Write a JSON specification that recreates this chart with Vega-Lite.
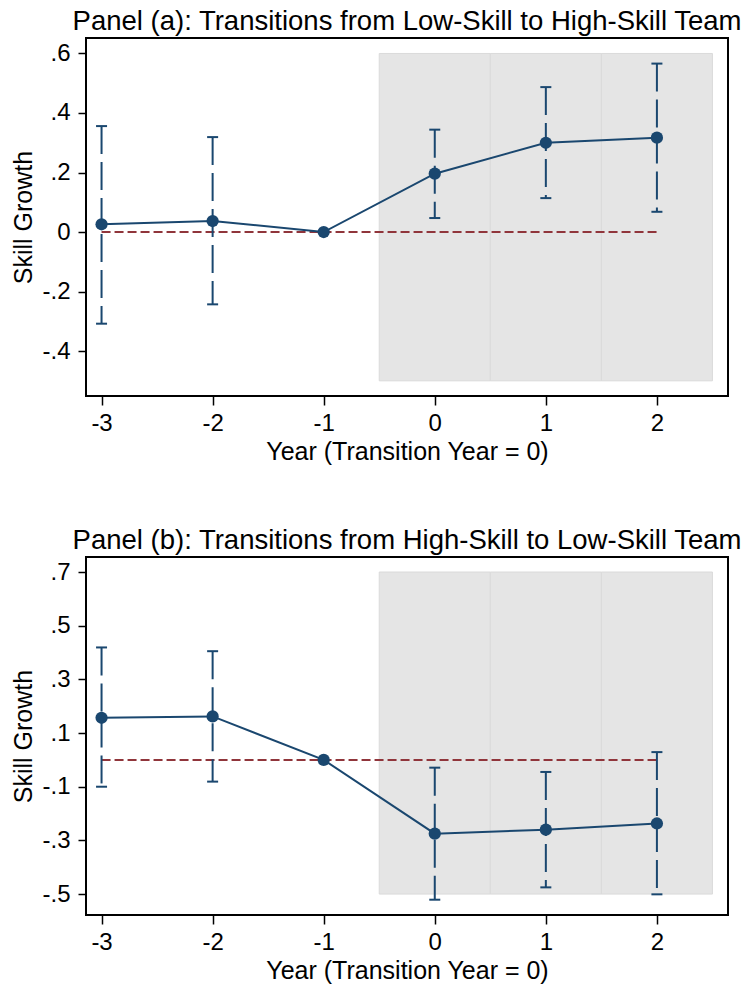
{
  "$schema": "https://vega.github.io/schema/vega-lite/v6.json",
  "padding": {"left": 10, "top": 6, "right": 0, "bottom": 0},
  "background": "white",
  "spacing": 60,
  "datasets": {
    "est": [
      {"panel": "a", "year": -3, "b": 0.026, "lo": -0.308, "hi": 0.356},
      {"panel": "a", "year": -2, "b": 0.037, "lo": -0.243, "hi": 0.319},
      {"panel": "a", "year": -1, "b": 0.0, "lo": null, "hi": null},
      {"panel": "a", "year": 0, "b": 0.196, "lo": 0.047, "hi": 0.344},
      {"panel": "a", "year": 1, "b": 0.300, "lo": 0.114, "hi": 0.487},
      {"panel": "a", "year": 2, "b": 0.317, "lo": 0.068, "hi": 0.566},
      {"panel": "b", "year": -3, "b": 0.157, "lo": -0.100, "hi": 0.419},
      {"panel": "b", "year": -2, "b": 0.162, "lo": -0.081, "hi": 0.405},
      {"panel": "b", "year": -1, "b": 0.0, "lo": null, "hi": null},
      {"panel": "b", "year": 0, "b": -0.275, "lo": -0.521, "hi": -0.029},
      {"panel": "b", "year": 1, "b": -0.260, "lo": -0.475, "hi": -0.045},
      {"panel": "b", "year": 2, "b": -0.237, "lo": -0.501, "hi": 0.029}
    ],
    "shade": [
      {"panel": "a", "x0": -0.5, "x1": 0.5, "y0": -0.5, "y1": 0.6},
      {"panel": "a", "x0": 0.5, "x1": 1.5, "y0": -0.5, "y1": 0.6},
      {"panel": "a", "x0": 1.5, "x1": 2.5, "y0": -0.5, "y1": 0.6},
      {"panel": "b", "x0": -0.5, "x1": 0.5, "y0": -0.5, "y1": 0.7},
      {"panel": "b", "x0": 0.5, "x1": 1.5, "y0": -0.5, "y1": 0.7},
      {"panel": "b", "x0": 1.5, "x1": 2.5, "y0": -0.5, "y1": 0.7}
    ],
    "ref": [
      {"panel": "a", "x0": -3, "x1": 2, "y": 0},
      {"panel": "b", "x0": -3, "x1": 2, "y": 0}
    ]
  },
  "vconcat": [
    {
      "width": 642,
      "height": 358,
      "title": {"text": "Panel (a): Transitions from Low-Skill to High-Skill Team"},
      "layer": [
        {
          "data": {"name": "shade"},
          "transform": [{"filter": "datum.panel == 'a'"}],
          "mark": {"type": "rect", "fill": "#e5e5e5", "stroke": "#dadada", "strokeWidth": 1},
          "encoding": {
            "x": {"field": "x0", "type": "quantitative", "scale": {"domain": [-3.14, 2.64], "nice": false, "zero": false},
                  "axis": {"title": "Year (Transition Year = 0)", "values": [-3, -2, -1, 0, 1, 2], "labelExpr": "(datum.value < 0 ? '-' : '') + abs(datum.value)"}},
            "x2": {"field": "x1"},
            "y": {"field": "y0", "type": "quantitative", "scale": {"domain": [-0.551, 0.652], "nice": false, "zero": false},
                  "axis": {"title": "Skill Growth", "values": [-0.4, -0.2, 0, 0.2, 0.4, 0.6], "labelExpr": "datum.value == 0 ? '0' : (datum.value < 0 ? '-' : '') + '.' + round(abs(datum.value) * 10)"}},
            "y2": {"field": "y1"}
          }
        },
        {
          "data": {"name": "ref"},
          "transform": [{"filter": "datum.panel == 'a'"}],
          "mark": {"type": "rule", "color": "#90353b", "strokeWidth": 2, "strokeDash": [9, 4]},
          "encoding": {
            "x": {"field": "x0", "type": "quantitative"},
            "x2": {"field": "x1"},
            "y": {"field": "y", "type": "quantitative"}
          }
        },
        {
          "data": {"name": "est"},
          "transform": [{"filter": "datum.panel == 'a' && datum.lo != null"}],
          "mark": {"type": "rule", "color": "#1a476f", "strokeWidth": 2, "strokeDash": [28, 8]},
          "encoding": {
            "x": {"field": "year", "type": "quantitative"},
            "y": {"field": "hi", "type": "quantitative"},
            "y2": {"field": "lo"}
          }
        },
        {
          "data": {"name": "est"},
          "transform": [{"filter": "datum.panel == 'a' && datum.lo != null"}],
          "mark": {"type": "tick", "orient": "horizontal", "color": "#1a476f", "size": 11, "thickness": 2, "opacity": 1},
          "encoding": {
            "x": {"field": "year", "type": "quantitative"},
            "y": {"field": "hi", "type": "quantitative"}
          }
        },
        {
          "data": {"name": "est"},
          "transform": [{"filter": "datum.panel == 'a' && datum.lo != null"}],
          "mark": {"type": "tick", "orient": "horizontal", "color": "#1a476f", "size": 11, "thickness": 2, "opacity": 1},
          "encoding": {
            "x": {"field": "year", "type": "quantitative"},
            "y": {"field": "lo", "type": "quantitative"}
          }
        },
        {
          "data": {"name": "est"},
          "transform": [{"filter": "datum.panel == 'a'"}],
          "mark": {"type": "line", "color": "#1a476f", "strokeWidth": 2},
          "encoding": {
            "x": {"field": "year", "type": "quantitative"},
            "y": {"field": "b", "type": "quantitative"}
          }
        },
        {
          "data": {"name": "est"},
          "transform": [{"filter": "datum.panel == 'a'"}],
          "mark": {"type": "circle", "color": "#1a476f", "size": 150, "opacity": 1},
          "encoding": {
            "x": {"field": "year", "type": "quantitative"},
            "y": {"field": "b", "type": "quantitative"}
          }
        }
      ]
    },
    {
      "width": 642,
      "height": 358,
      "title": {"text": "Panel (b): Transitions from High-Skill to Low-Skill Team"},
      "layer": [
        {
          "data": {"name": "shade"},
          "transform": [{"filter": "datum.panel == 'b'"}],
          "mark": {"type": "rect", "fill": "#e5e5e5", "stroke": "#dadada", "strokeWidth": 1},
          "encoding": {
            "x": {"field": "x0", "type": "quantitative", "scale": {"domain": [-3.14, 2.64], "nice": false, "zero": false},
                  "axis": {"title": "Year (Transition Year = 0)", "values": [-3, -2, -1, 0, 1, 2], "labelExpr": "(datum.value < 0 ? '-' : '') + abs(datum.value)"}},
            "x2": {"field": "x1"},
            "y": {"field": "y0", "type": "quantitative", "scale": {"domain": [-0.578, 0.756], "nice": false, "zero": false},
                  "axis": {"title": "Skill Growth", "values": [-0.5, -0.3, -0.1, 0.1, 0.3, 0.5, 0.7], "labelExpr": "datum.value == 0 ? '0' : (datum.value < 0 ? '-' : '') + '.' + round(abs(datum.value) * 10)"}},
            "y2": {"field": "y1"}
          }
        },
        {
          "data": {"name": "ref"},
          "transform": [{"filter": "datum.panel == 'b'"}],
          "mark": {"type": "rule", "color": "#90353b", "strokeWidth": 2, "strokeDash": [9, 4]},
          "encoding": {
            "x": {"field": "x0", "type": "quantitative"},
            "x2": {"field": "x1"},
            "y": {"field": "y", "type": "quantitative"}
          }
        },
        {
          "data": {"name": "est"},
          "transform": [{"filter": "datum.panel == 'b' && datum.lo != null"}],
          "mark": {"type": "rule", "color": "#1a476f", "strokeWidth": 2, "strokeDash": [28, 8]},
          "encoding": {
            "x": {"field": "year", "type": "quantitative"},
            "y": {"field": "hi", "type": "quantitative"},
            "y2": {"field": "lo"}
          }
        },
        {
          "data": {"name": "est"},
          "transform": [{"filter": "datum.panel == 'b' && datum.lo != null"}],
          "mark": {"type": "tick", "orient": "horizontal", "color": "#1a476f", "size": 11, "thickness": 2, "opacity": 1},
          "encoding": {
            "x": {"field": "year", "type": "quantitative"},
            "y": {"field": "hi", "type": "quantitative"}
          }
        },
        {
          "data": {"name": "est"},
          "transform": [{"filter": "datum.panel == 'b' && datum.lo != null"}],
          "mark": {"type": "tick", "orient": "horizontal", "color": "#1a476f", "size": 11, "thickness": 2, "opacity": 1},
          "encoding": {
            "x": {"field": "year", "type": "quantitative"},
            "y": {"field": "lo", "type": "quantitative"}
          }
        },
        {
          "data": {"name": "est"},
          "transform": [{"filter": "datum.panel == 'b'"}],
          "mark": {"type": "line", "color": "#1a476f", "strokeWidth": 2},
          "encoding": {
            "x": {"field": "year", "type": "quantitative"},
            "y": {"field": "b", "type": "quantitative"}
          }
        },
        {
          "data": {"name": "est"},
          "transform": [{"filter": "datum.panel == 'b'"}],
          "mark": {"type": "circle", "color": "#1a476f", "size": 150, "opacity": 1},
          "encoding": {
            "x": {"field": "year", "type": "quantitative"},
            "y": {"field": "b", "type": "quantitative"}
          }
        }
      ]
    }
  ],
  "config": {
    "font": "Liberation Sans",
    "view": {"stroke": "black", "strokeWidth": 2},
    "axis": {
      "grid": false,
      "domain": false,
      "tickColor": "black",
      "tickWidth": 1.5,
      "tickSize": 8,
      "labelFont": "Liberation Sans",
      "labelFontSize": 24,
      "labelColor": "black",
      "titleFont": "Liberation Sans",
      "titleFontSize": 25,
      "titleFontWeight": "normal",
      "titleColor": "black"
    },
    "axisX": {"labelPadding": 6, "titlePadding": 4, "tickSize": 9},
    "axisY": {"labelPadding": 8, "titlePadding": 5},
    "title": {
      "font": "Liberation Sans",
      "fontSize": 27.5,
      "fontWeight": "normal",
      "color": "black",
      "anchor": "middle",
      "frame": "group",
      "baseline": "alphabetic",
      "offset": 3
    }
  }
}
